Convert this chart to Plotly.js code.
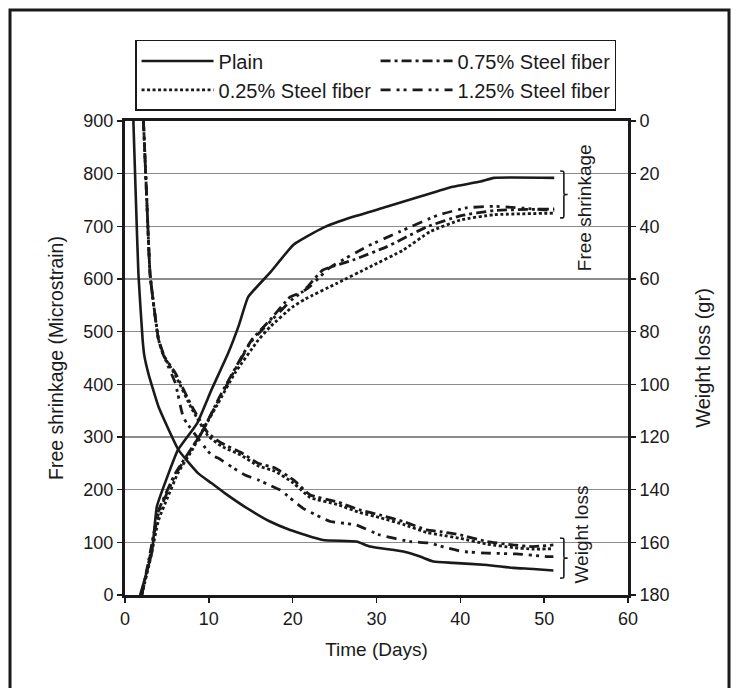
<!DOCTYPE html>
<html>
<head>
<meta charset="utf-8">
<script src="https://cdn.plot.ly/plotly-3.0.1.min.js"></script>
<style>html,body{margin:0;padding:0;background:#fff;}#chart{width:737px;height:688px;}</style>
</head>
<body>
<div id="chart"></div>
<script>
// ---- Data ----
const seriesNames = ["Plain", "0.25% Steel fiber", "0.75% Steel fiber", "1.25% Steel fiber"];

// Free shrinkage (microstrain) vs time (days)
const plainShrinkDays = [1.8, 3.2, 3.8, 5.2, 6.3, 8.6, 10.3, 12.3, 13.6, 14.7, 17.3, 20.1, 23.6, 27.2, 31.2, 35.5, 39.1, 42.4, 44.0, 51.2];
const plainShrink     = [0, 80, 168, 231, 275, 326, 389, 459, 513, 566, 612, 665, 697, 718, 737, 758, 775, 785, 792, 792];

const sf025ShrinkDays = [2.0, 3.0, 4.0, 5.1, 6.3, 8.0, 9.5, 11.1, 13.1, 15.9, 17.3, 19.9, 21.5, 25.3, 29.2, 33.2, 36.4, 40.0, 44.0, 51.2];
const sf025Shrink     = [0, 66, 142, 186, 231, 275, 319, 364, 421, 484, 509, 546, 562, 592, 623, 655, 690, 712, 722, 725];

const sf075ShrinkDays = [2.0, 3.0, 4.0, 6.0, 9.1, 11.5, 15.1, 17.3, 19.7, 21.2, 23.6, 27.2, 31.2, 36.0, 40.0, 44.0, 51.2];
const sf075Shrink     = [0, 80, 160, 231, 307, 383, 484, 522, 566, 576, 617, 636, 661, 699, 720, 730, 733];

const sf125ShrinkDays = [2.0, 3.0, 4.0, 6.0, 9.0, 11.5, 15.0, 17.5, 20.0, 22.0, 24.4, 28.9, 32.8, 37.3, 40.7, 44.0, 51.2];
const sf125Shrink     = [0, 75, 155, 228, 305, 380, 480, 522, 562, 585, 621, 662, 690, 721, 735, 738, 730];

// Weight loss (gr) vs time (days)
const plainWLDays = [1.0, 1.3, 1.6, 2.1, 2.3, 2.8, 4.0, 6.4, 8.7, 10.3, 11.9, 14.3, 17.3, 19.7, 23.6, 27.6, 29.2, 33.2, 35.2, 36.8, 39.1, 43.2, 46.3, 48.7, 51.1];
const plainWL     = [0, 30, 58, 83, 89, 96, 108.5, 125, 133.7, 137.5, 141.3, 146.5, 152.1, 155.3, 159.1, 159.7, 161.6, 163.5, 165.4, 167.3, 167.8, 168.6, 169.7, 170.1, 170.7];

const sf075WLDays = [2.2, 2.6, 3.0, 4.0, 4.6, 6.0, 8.0, 9.9, 11.5, 13.9, 15.9, 17.9, 20.1, 22.1, 25.3, 28.0, 30.4, 33.2, 36.0, 37.6, 40.0, 43.2, 46.3, 48.7, 51.1];
const sf075WL     = [0, 30, 58.5, 83, 89, 95.7, 108.5, 118.5, 122.3, 126, 130, 131.8, 136.3, 142, 144.6, 147.7, 149.6, 152.1, 155.3, 155.9, 157.2, 159.7, 161, 161.6, 161];

const sf025WLDays = [2.2, 2.6, 3.0, 4.0, 4.6, 6.0, 8.0, 9.9, 11.5, 13.9, 15.9, 17.9, 20.1, 22.1, 25.3, 28.0, 30.4, 33.2, 36.0, 37.6, 40.0, 43.2, 46.3, 48.7, 51.1];
const sf025WL     = [0, 30, 58.5, 83, 89, 96.5, 109.5, 119.5, 123.5, 127, 131, 133, 137.5, 143, 145.6, 148.7, 150.6, 153.2, 156.3, 157.2, 158.5, 160.7, 162, 162.6, 162.4];

const sf125WLDays = [2.2, 2.6, 3.0, 4.0, 5.0, 6.0, 7.0, 10.3, 11.1, 12.7, 14.3, 15.9, 16.9, 18.5, 21.2, 24.5, 25.7, 27.6, 30.4, 34.0, 36.4, 38.0, 40.3, 43.2, 46.7, 50.3, 51.1];
const sf125WL     = [0, 30, 58.5, 83, 92, 99.5, 112.8, 126.8, 128, 131.3, 134.4, 136.3, 137.8, 140.1, 147, 152.1, 152.6, 153.4, 157.2, 159.7, 160.3, 161.8, 163.5, 164.1, 164.4, 165.4, 165.4];

const xTicks = [0, 10, 20, 30, 40, 50, 60];
const yTicks = [0, 100, 200, 300, 400, 500, 600, 700, 800, 900];
const y2Ticks = [0, 20, 40, 60, 80, 100, 120, 140, 160, 180];

// ---- Styles ----
const INK = '#1a1a1a';
const FONT = 'Liberation Sans, Arial, sans-serif';
const NB = '\u00a0';
const styles = {
  plain: {color: INK, width: 2.6, dash: 'solid'},
  sf025: {color: INK, width: 2.8, dash: '3px,2.5px'},
  sf075: {color: INK, width: 2.8, dash: '10px,4px,3px,4px'},
  sf125: {color: INK, width: 2.8, dash: '10px,6px,3px,4px,3px,6px'}
};

function tr(x, y, name, st, yaxis, show) {
  return {x: x, y: y, name: name, type: 'scatter', mode: 'lines', yaxis: yaxis,
          line: {color: st.color, width: st.width, dash: st.dash, shape: 'spline', smoothing: 0.4},
          showlegend: show, hoverinfo: 'skip'};
}

const data = [
  tr(plainShrinkDays, plainShrink, seriesNames[0], styles.plain, 'y', true),
  tr(sf075ShrinkDays, sf075Shrink, seriesNames[2], styles.sf075, 'y', true),
  tr(sf025ShrinkDays, sf025Shrink, seriesNames[1], styles.sf025, 'y', true),
  tr(sf125ShrinkDays, sf125Shrink, seriesNames[3], styles.sf125, 'y', true),
  tr(plainWLDays, plainWL, seriesNames[0], styles.plain, 'y2', false),
  tr(sf075WLDays, sf075WL, seriesNames[2], styles.sf075, 'y2', false),
  tr(sf025WLDays, sf025WL, seriesNames[1], styles.sf025, 'y2', false),
  tr(sf125WLDays, sf125WL, seriesNames[3], styles.sf125, 'y2', false)
];

// brace helper (annotation decoration, in data units)
function brace(x0, yTop, yBot) {
  const xm = x0 + 0.45, xt = x0 + 0.9, yM = (yTop + yBot) / 2, r = (yTop - yBot) * 0.06;
  return 'M' + x0 + ',' + yTop + ' C' + xm + ',' + yTop + ' ' + xm + ',' + yTop + ' ' + xm + ',' + (yTop - r) +
         ' L' + xm + ',' + (yM + r) + ' C' + xm + ',' + yM + ' ' + xm + ',' + yM + ' ' + xt + ',' + yM +
         ' C' + xm + ',' + yM + ' ' + xm + ',' + yM + ' ' + xm + ',' + (yM - r) +
         ' L' + xm + ',' + (yBot + r) + ' C' + xm + ',' + yBot + ' ' + xm + ',' + yBot + ' ' + x0 + ',' + yBot;
}

const layout = {
  width: 737, height: 688,
  margin: {l: 125, r: 109, t: 121, b: 93},
  paper_bgcolor: '#fff', plot_bgcolor: '#fff',
  font: {family: FONT, size: 18, color: INK},
  showlegend: true,
  legend: {
    orientation: 'h', x: 0.02, y: 1.171, xanchor: 'left', yanchor: 'top',
    bordercolor: INK, borderwidth: 1.5, bgcolor: '#fff',
    font: {family: FONT, size: 20, color: INK},
    entrywidth: 152, itemwidth: 72, traceorder: 'normal'
  },
  xaxis: {
    range: [0, 60], tickvals: xTicks, ticks: 'outside', ticklen: 5, tickwidth: 1.5, tickcolor: INK,
    showline: true, linewidth: 3, linecolor: INK, mirror: true, showgrid: false, zeroline: false,
    tickfont: {family: FONT, size: 18, color: INK},
    title: {text: 'Time (Days)', font: {family: FONT, size: 19, color: INK}, standoff: 16}
  },
  yaxis: {
    range: [0, 900], tickvals: yTicks, ticks: 'outside', ticklen: 5, tickwidth: 1.5, tickcolor: INK,
    showline: true, linewidth: 3, linecolor: INK, showgrid: true, gridcolor: '#8c8c8c', gridwidth: 1.6,
    zeroline: false, tickfont: {family: FONT, size: 18, color: INK},
    title: {text: NB.repeat(6) + 'Free shrinkage (Microstrain)', font: {family: FONT, size: 19.5, color: INK}, standoff: 15}
  },
  yaxis2: {
    overlaying: 'y', side: 'right', range: [180, 0], tickvals: y2Ticks, ticks: 'outside', ticklen: 5,
    tickwidth: 1.5, tickcolor: INK, showline: true, linewidth: 3, linecolor: INK, showgrid: false,
    zeroline: false, tickfont: {family: FONT, size: 18, color: INK},
    title: {text: NB.repeat(3) + 'Weight loss (gr)', font: {family: FONT, size: 20, color: INK}, standoff: 28}
  },
  shapes: [
    {type: 'rect', xref: 'paper', yref: 'paper', x0: -0.2286, x1: 1.2008, y0: -0.25, y1: 1.2342,
     line: {color: INK, width: 3}, fillcolor: 'rgba(0,0,0,0)'},
    {type: 'path', xref: 'x', yref: 'y', path: brace(51.9, 805, 716), line: {color: INK, width: 1.6}},
    {type: 'path', xref: 'x', yref: 'y', path: brace(51.9, 108, 32), line: {color: INK, width: 1.6}}
  ],
  annotations: [
    {text: 'Free shrinkage', xref: 'x', yref: 'y', x: 54.9, y: 735, textangle: -90, showarrow: false,
     font: {family: FONT, size: 19, color: INK}, xanchor: 'center', yanchor: 'middle'},
    {text: 'Weight loss', xref: 'x', yref: 'y', x: 54.4, y: 115, textangle: -90, showarrow: false,
     font: {family: FONT, size: 19, color: INK}, xanchor: 'center', yanchor: 'middle'}
  ]
};

Plotly.newPlot('chart', data, layout, {staticPlot: true, displayModeBar: false});
</script>
</body>
</html>
